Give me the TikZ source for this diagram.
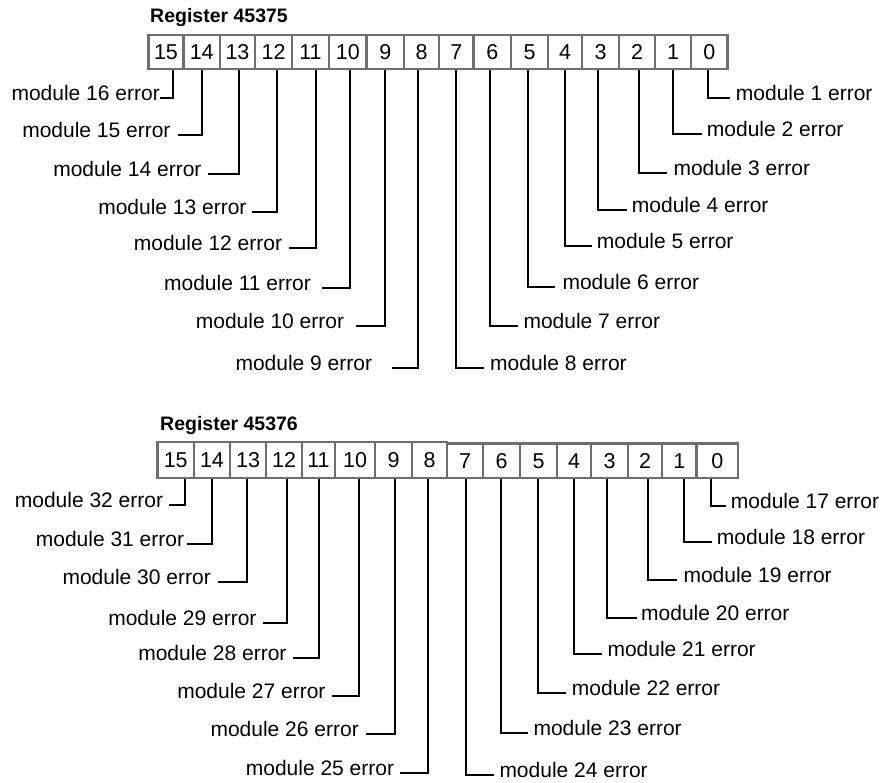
\documentclass[tikz,border=0pt]{standalone}
\usepackage{fontspec}
\setmainfont{Liberation Sans}
\definecolor{boxgray}{HTML}{6E6E6E}
\begin{document}
\begin{tikzpicture}[x=1pt,y=-1pt,
  cell/.style={draw=boxgray, line width=2.2pt, inner sep=0pt, fill=white,
    font=\fontsize{21.5}{25}\selectfont},
  lbl/.style={inner sep=0pt, font=\fontsize{21}{25}\selectfont},
  ttl/.style={inner sep=0pt, font=\fontsize{19.5}{23}\selectfont\bfseries},
  wire/.style={line width=2pt, black}]
\useasboundingbox[fill=white] (0,0) rectangle (891,782);

% titles
\node[ttl, anchor=base west] (title1) at (150,22) {Register 45375};
\node[ttl, anchor=base west] (title2) at (160,430) {Register 45376};

% top register cells
\foreach \n/\l/\r in {15/148.5/183.5,14/183.5/220,13/220/255,12/255/292,11/292/329,10/329/366.5,9/366.5/404,8/404/439,7/439/473.5,6/473.5/511,5/511/548,4/548/582,3/582/619,2/619/655,1/655/691,0/691/727.5}{
  \pgfmathsetmacro\w{\r-\l}
  \pgfmathsetmacro\c{(\l+\r)/2}
  \node[cell, minimum width=\w pt, minimum height=34pt] (t\n) at (\c,52) {\n};
}

% bottom register cells (left half)
\foreach \n/\l/\r in {15/157.5/194,14/194/230,13/230/266,12/266/302,11/302/335,10/335/375,9/375/412,8/412/447}{
  \pgfmathsetmacro\w{\r-\l}
  \pgfmathsetmacro\c{(\l+\r)/2}
  \node[cell, minimum width=\w pt, minimum height=36pt] (b\n) at (\c,460) {\n};
}
% bottom register cells (right half)
\foreach \n/\l/\r in {7/447/483,6/483/520,5/520/557,4/557/591,3/591/628,2/628/662,1/662/696.5,0/696.5/738}{
  \pgfmathsetmacro\w{\r-\l}
  \pgfmathsetmacro\c{(\l+\r)/2}
  \node[cell, minimum width=\w pt, minimum height=34.5pt] (b\n) at (\c,460.75) {\n};
}

% top register, left labels
\foreach \n/\m/\tk/\ly/\le/\tr in {15/16/173/98.3/160/160,14/15/201.7/135/178.3/170.7,13/14/238.5/174/208.3/201.7,12/13/276.7/212/251.7/246.7,11/12/316/247.5/289.3/282.3,10/11/350/288/321.7/311,9/10/385/326/355.7/344.3,8/9/417.7/368.3/392.3/372.3}{
  \pgfmathsetmacro\g{\le-\tr}
  \node[lbl, anchor=mid east] (m\m) at (\tr,\ly) {module \m{} error};
  \coordinate (k) at (\tk,0);
  \draw[wire] (t\n.south -| k) |- ([xshift=\g pt]m\m.mid east);
}
% top register, right labels
\foreach \n/\m/\tk/\ly/\le/\tl in {0/1/707.7/98.3/730/735.7,1/2/673.3/134/701.7/706.7,2/3/639/173.3/666.7/673.3,3/4/597.7/210/626.7/631.7,4/5/565/246/591.7/596.7,5/6/527.7/286.7/555/562.3,6/7/490/325.7/518.3/523.3,7/8/455.7/368.3/484.3/490}{
  \pgfmathsetmacro\g{\le-\tl}
  \node[lbl, anchor=mid west] (m\m) at (\tl,\ly) {module \m{} error};
  \coordinate (k) at (\tk,0);
  \draw[wire] (t\n.south -| k) |- ([xshift=\g pt]m\m.mid west);
}

% bottom register, left labels
\foreach \n/\m/\tk/\ly/\le/\tr in {15/32/185/505/169/163.3,14/31/211.7/544.3/187.3/184.3,13/30/247/581.7/218.3/211,12/29/286.7/622.7/263.3/256.7,11/28/319/658.3/293.3/286.7,10/27/359.3/696/331.7/325.7,9/26/395/734/365.7/359,8/25/428.3/773.3/400/394.3}{
  \pgfmathsetmacro\g{\le-\tr}
  \node[lbl, anchor=mid east] (m\m) at (\tr,\ly) {module \m{} error};
  \coordinate (k) at (\tk,0);
  \draw[wire] (b\n.south -| k) |- ([xshift=\g pt]m\m.mid east);
}
% bottom register, right labels
\foreach \n/\m/\tk/\ly/\le/\tl in {0/17/710.7/506/725.7/730.7,1/18/684/541.7/711.7/716.7,2/19/648.3/580/676.7/683.3,3/20/606.7/617.7/636.7/641,4/21/574/654/602.3/607.3,5/22/537.7/693.3/566/571.7,6/23/500.7/733.3/528.3/533.3,7/24/466/775/494.3/499.3}{
  \pgfmathsetmacro\g{\le-\tl}
  \node[lbl, anchor=mid west] (m\m) at (\tl,\ly) {module \m{} error};
  \coordinate (k) at (\tk,0);
  \draw[wire] (b\n.south -| k) |- ([xshift=\g pt]m\m.mid west);
}
\end{tikzpicture}
\end{document}
